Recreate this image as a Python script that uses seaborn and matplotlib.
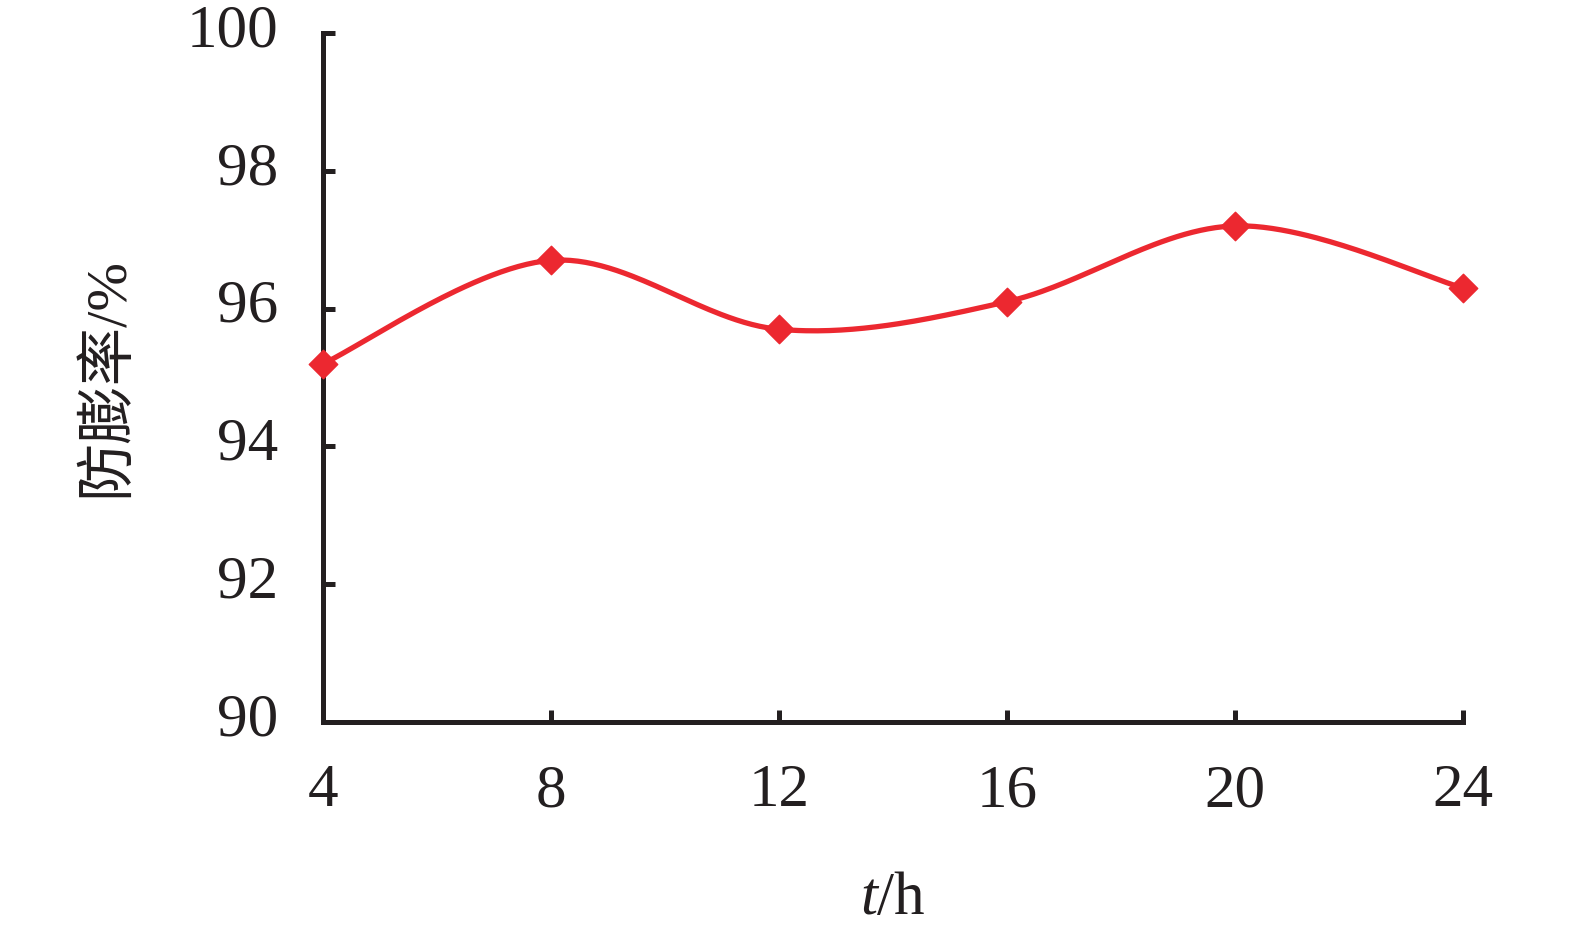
import numpy as np
import pandas as pd
import matplotlib
matplotlib.use("Agg")
import matplotlib.pyplot as plt
import matplotlib.transforms as mtransforms
import seaborn as sns

# data
hours = [4, 8, 12, 16, 20, 24]
rate = [95.2, 96.7, 95.7, 96.1, 97.2, 96.3]
x_ticks = [4, 8, 12, 16, 20, 24]
y_ticks = [90, 92, 94, 96, 98, 100]

sns.set_theme(style="white")
plt.rcParams['font.family'] = ['Liberation Serif', 'Noto Sans CJK SC']
plt.rcParams['mathtext.fontset'] = 'custom'
plt.rcParams['mathtext.it'] = 'Liberation Serif:italic'
plt.rcParams['mathtext.rm'] = 'Liberation Serif'

RED = '#EC2830'
INK = '#231F20'

fig = plt.figure(figsize=(15.75, 9.3), dpi=100)
ax = fig.add_axes([0.2051, 0.2237, 0.7238, 0.7408])

# smoothed curve (Excel-style Bezier smoothing between data points)
px = np.array(hours, float)
py = np.array(rate, float)
n = len(px)
sx, sy = [], []
t = np.linspace(0, 1, 60)
for i in range(n - 1):
    p0 = i - 1 if i > 0 else i
    p3 = i + 2 if i + 2 < n else i + 1
    c1x = px[i] + (px[i + 1] - px[p0]) / 6
    c1y = py[i] + (py[i + 1] - py[p0]) / 6
    c2x = px[i + 1] - (px[p3] - px[i]) / 6
    c2y = py[i + 1] - (py[p3] - py[i]) / 6
    bx = (1 - t) ** 3 * px[i] + 3 * (1 - t) ** 2 * t * c1x + 3 * (1 - t) * t ** 2 * c2x + t ** 3 * px[i + 1]
    by = (1 - t) ** 3 * py[i] + 3 * (1 - t) ** 2 * t * c1y + 3 * (1 - t) * t ** 2 * c2y + t ** 3 * py[i + 1]
    sx.extend(bx)
    sy.extend(by)
curve = pd.DataFrame({'x': sx, 'y': sy})
sns.lineplot(data=curve, x='x', y='y', sort=False, color=RED, linewidth=3.8, ax=ax,
             estimator=None, zorder=3, clip_on=False)

pts = pd.DataFrame({'h': hours, 'r': rate})
sns.scatterplot(data=pts, x='h', y='r', marker='D', s=210, color=RED,
                edgecolor=RED, linewidth=1, ax=ax, zorder=4, clip_on=False)

ax.set_xlim(4, 24)
ax.set_ylim(90, 100)
ax.set_xticks(x_ticks)
ax.set_yticks(y_ticks)
ax.set_xticklabels([str(v) for v in x_ticks])
ax.set_yticklabels([str(v) for v in y_ticks])

for s in ['top', 'right']:
    ax.spines[s].set_visible(False)
for s in ['left', 'bottom']:
    ax.spines[s].set_color(INK)
    ax.spines[s].set_linewidth(3.6)
    ax.spines[s].set_capstyle('projecting')

ax.tick_params(axis='both', direction='in', length=8.5, width=3.6, color=INK,
               labelsize=44, labelcolor=INK)
ax.tick_params(axis='x', pad=30, bottom=True)
ax.tick_params(axis='y', pad=32, left=True)

offset = mtransforms.ScaledTranslation(0, 8 / 100, fig.dpi_scale_trans)
for lab in ax.get_yticklabels():
    lab.set_transform(lab.get_transform() + offset)

ax.set_xlabel(r'$t$/h', fontsize=44, color=INK, labelpad=38)
ax.set_ylabel('防膨率/%', fontsize=42, color=INK, labelpad=38)
ax.grid(False)

fig.savefig('out.png', dpi=100, facecolor='white')
